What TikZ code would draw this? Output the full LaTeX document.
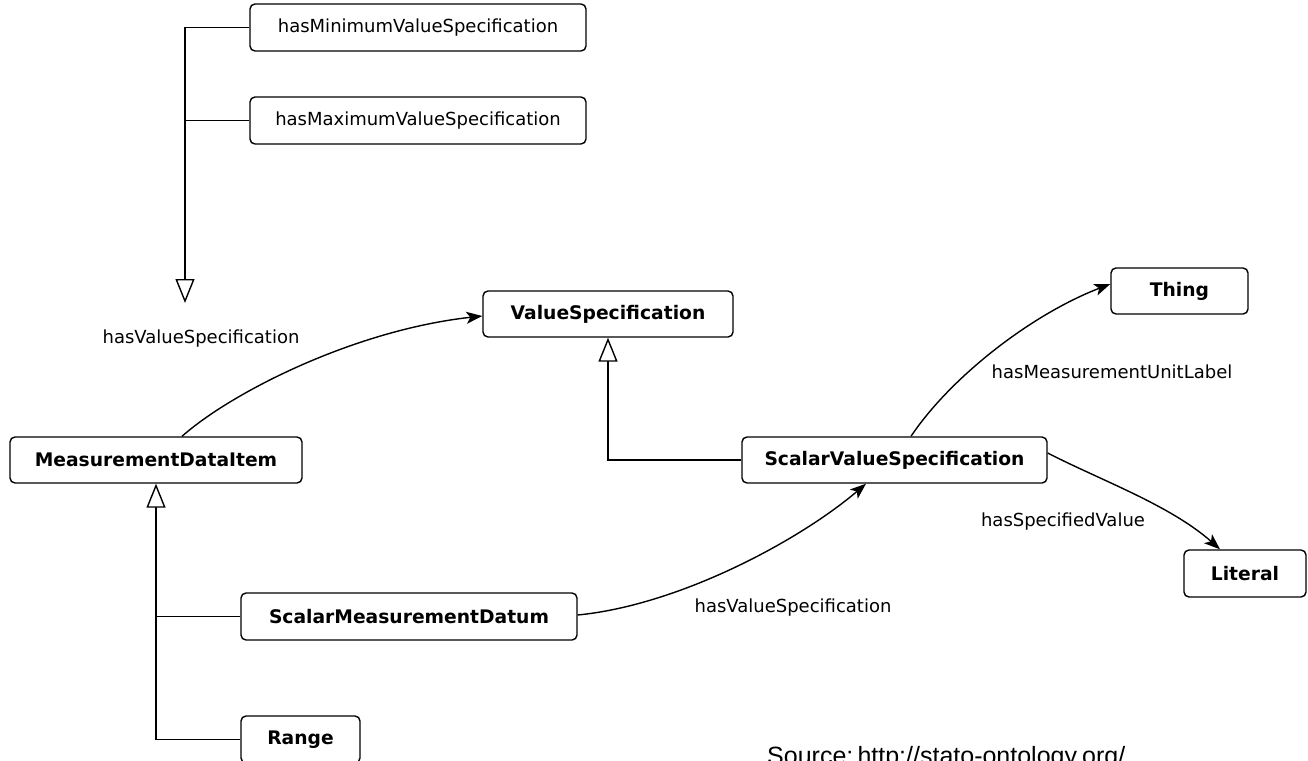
\documentclass[tikz,border=0pt]{standalone}
\usepackage{fontspec}
\setmainfont{DejaVu Sans}
\newfontfamily\srcfont{Liberation Sans}
\usetikzlibrary{arrows.meta}
\begin{document}
\begin{tikzpicture}[x=1pt,y=-1pt,
  every node/.style={font=\fontsize{18}{22}\selectfont, inner sep=0pt},
  cls/.style={draw, line width=1.4pt, rounded corners=5pt, font=\fontsize{18.7}{22}\selectfont\bfseries, align=center},
  prop/.style={draw, line width=1.4pt, rounded corners=5pt, align=center},
  lbl/.style={},
  gen/.style={line width=1.4pt, -{Triangle[open, length=24pt, width=19pt, fill=white]}},
  rel/.style={line width=1.4pt, -{Stealth[length=16pt, width=12pt, inset=4pt]}},
  plain/.style={line width=1.4pt}
]
\useasboundingbox (0,0) rectangle (1308,760);
\clip (0,0) rectangle (1308,760);

% property boxes
\node[prop, minimum width=336pt, minimum height=47pt] (minV) at (418,27.5) {hasMinimumValueSpecification};
\node[prop, minimum width=336pt, minimum height=47pt] (maxV) at (418,120.5) {hasMaximumValueSpecification};

% class boxes
\node[cls, minimum width=250pt, minimum height=46pt] (VS) at (608,314) {ValueSpecification};
\node[cls, minimum width=292pt, minimum height=46pt] (MDI) at (156,460) {MeasurementDataItem};
\node[cls, minimum width=305pt, minimum height=46pt] (SVS) at (894.5,460) {ScalarValueSpecification};
\node[cls, minimum width=137pt, minimum height=46pt] (Thing) at (1179.5,291) {Thing};
\node[cls, minimum width=122pt, minimum height=47pt] (Lit) at (1245,573.5) {Literal};
\node[cls, minimum width=336pt, minimum height=47pt] (SMD) at (409,616.5) {ScalarMeasurementDatum};
\node[cls, minimum width=119pt, minimum height=47pt] (Range) at (300.5,739.5) {Range};

% sub-property tree
\coordinate (topTip) at (185,303);
\coordinate (j1) at (185,120.5);
\draw[gen] (minV.west) -| (topTip);
\draw[plain] (maxV.west) -- (j1);
\node[lbl] (lHVS1) at (201,339) {hasValueSpecification};

% generalizations
\draw[gen] (SVS.west) -| (VS.south);
\coordinate (j2) at (MDI.south |- SMD.west);
\draw[gen] (SMD.west) -| (MDI.south);
\draw[plain] (Range.west) -| (j2);

% relations
\draw[rel] ([xshift=26pt]MDI.north) .. controls (232,392) and (355,330) .. ([yshift=-2pt]VS.west);
\draw[rel] ([yshift=1.5pt]SMD.east) .. controls (680,605) and (800,540) .. ([xshift=-28.5pt]SVS.south);
\node[lbl] (lHVS2) at (793,608) {hasValueSpecification};
\draw[rel] ([xshift=16.5pt]SVS.north) .. controls (950,378) and (1030,315) .. ([yshift=7pt]Thing.west);
\node[lbl] (lHMUL) at (1112,372) {hasMeasurementUnitLabel};
\draw[rel] ([yshift=7pt]SVS.east) .. controls (1100,480) and (1170,505) .. ([xshift=-25pt]Lit.north);
\node[lbl] (lHSV) at (1063,522) {hasSpecifiedValue};

% source
\node[anchor=base west, font=\srcfont\fontsize{25}{30}\selectfont] (src) at (767,764) {Source:\,http://stato-ontology.org/};
\end{tikzpicture}
\end{document}
